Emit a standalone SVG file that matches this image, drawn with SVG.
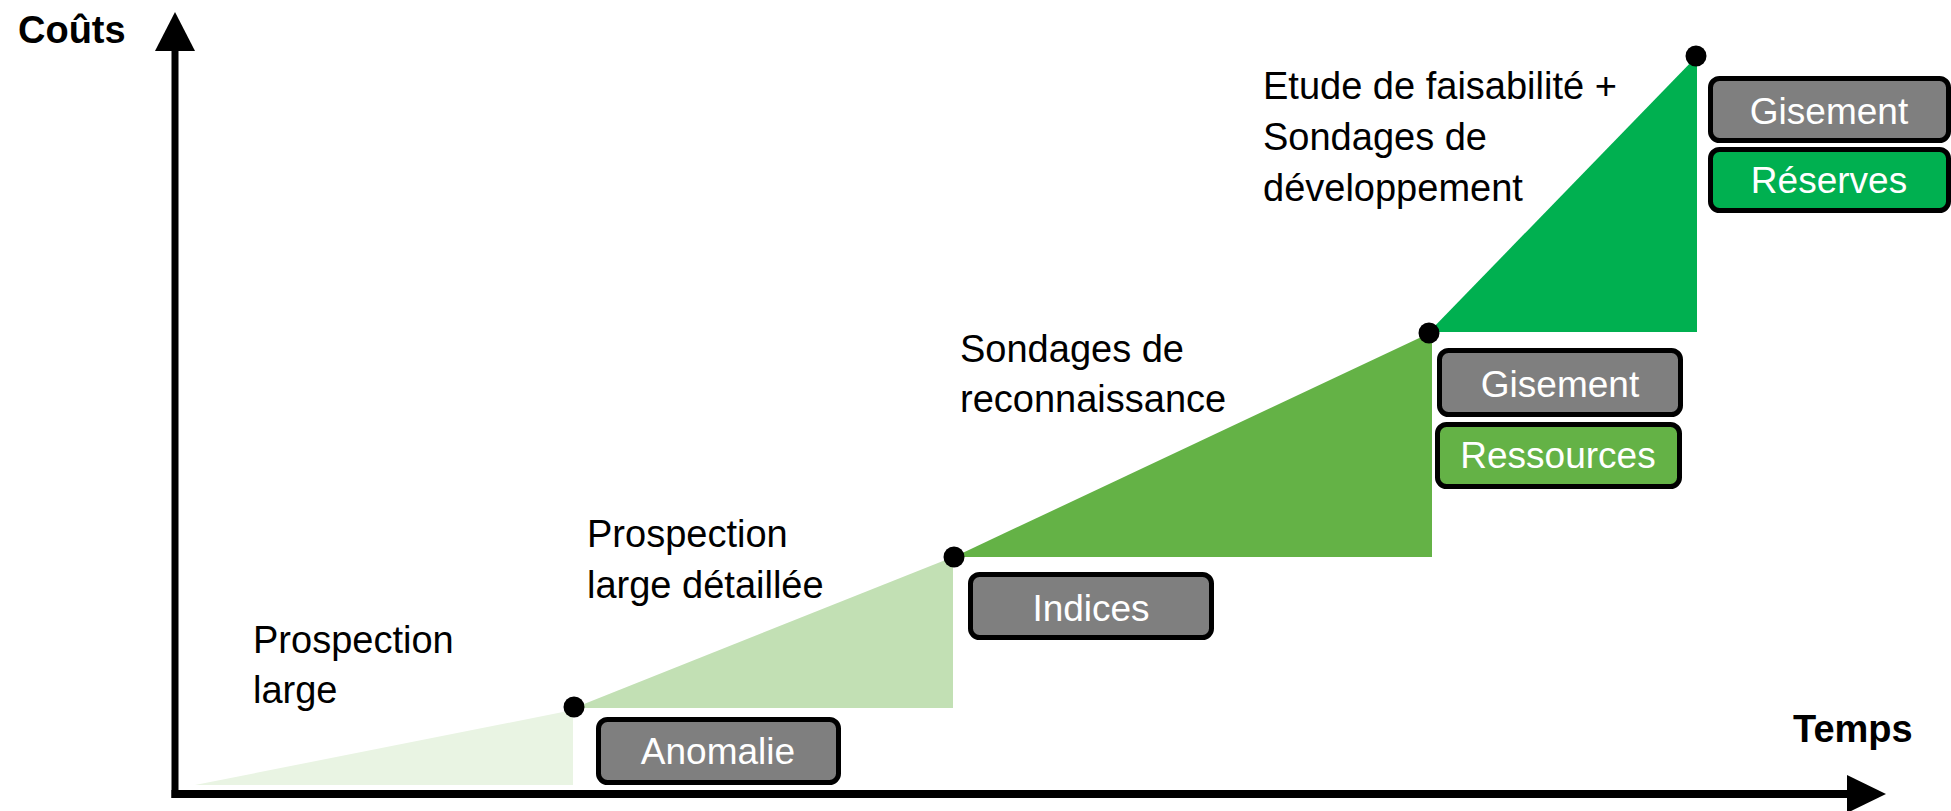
<svg xmlns="http://www.w3.org/2000/svg" width="1951" height="811" viewBox="0 0 1951 811">
<style>
  text { font-family: "Liberation Sans", Arial, sans-serif; }
  .lbl { font-size: 38px; fill: #000; }
  .ax { font-size: 38px; font-weight: bold; fill: #000; }
  .box { stroke: #000; stroke-width: 5; }
  .gray { fill: #7F7F7F; }
  .mid { fill: #64B246; }
  .dark { fill: #00B050; }
  .bt { font-size: 37px; fill: #fff; text-anchor: middle; }
  .dot { fill: #000; }
</style>
<rect width="1951" height="811" fill="#fff"/>
<g id="areas">
  <polygon points="195,785 573,710 573,785" fill="#E9F4E3"/>
  <polygon points="574,708 953,557 953,708" fill="#C2E0B4"/>
  <polygon points="954,557 1432,332 1432,557" fill="#64B246"/>
  <polygon points="1429,332 1697,56 1697,332" fill="#00B050"/>
</g>
<g id="connectors">
  <line x1="175" y1="798" x2="175" y2="50" stroke="#000" stroke-width="7"/>
  <polygon points="155,51 195,51 175,12" fill="#000"/>
  <line x1="171.5" y1="794" x2="1848" y2="794" stroke="#000" stroke-width="8"/>
  <polygon points="1847,775 1847,813 1886,794" fill="#000"/>
</g>
<g id="axis-labels">
  <text class="ax" x="18" y="43">Coûts</text>
  <text class="ax" x="1793" y="742">Temps</text>
</g>
<g id="dots">
  <circle class="dot" cx="574" cy="707" r="10.5"/>
  <circle class="dot" cx="954" cy="557" r="10.5"/>
  <circle class="dot" cx="1429" cy="333" r="10.5"/>
  <circle class="dot" cx="1696" cy="56" r="10.5"/>
</g>
<g id="stage-prospection-large">
  <text class="lbl" x="253" y="653">Prospection</text>
  <text class="lbl" x="253" y="703">large</text>
</g>
<g id="stage-prospection-detaillee">
  <text class="lbl" x="587" y="547">Prospection</text>
  <text class="lbl" x="587" y="598">large détaillée</text>
</g>
<g id="stage-sondages-reconnaissance">
  <text class="lbl" x="960" y="362">Sondages de</text>
  <text class="lbl" x="960" y="412">reconnaissance</text>
</g>
<g id="stage-etude-faisabilite">
  <text class="lbl" x="1263" y="99">Etude de faisabilité +</text>
  <text class="lbl" x="1263" y="150">Sondages de</text>
  <text class="lbl" x="1263" y="201">développement</text>
</g>
<g id="box-anomalie">
  <rect class="box gray" x="598.5" y="719.5" width="240" height="63" rx="9"/>
  <text class="bt" x="718" y="764">Anomalie</text>
</g>
<g id="box-indices">
  <rect class="box gray" x="970.5" y="574.5" width="241" height="63" rx="9"/>
  <text class="bt" x="1091" y="621">Indices</text>
</g>
<g id="box-gisement-1">
  <rect class="box gray" x="1439.5" y="350.5" width="241" height="64" rx="9"/>
  <text class="bt" x="1560" y="397">Gisement</text>
</g>
<g id="box-ressources">
  <rect class="box mid" x="1437.5" y="424.5" width="242" height="62" rx="9"/>
  <text class="bt" x="1558" y="468">Ressources</text>
</g>
<g id="box-gisement-2">
  <rect class="box gray" x="1710.5" y="78.5" width="238" height="62" rx="9"/>
  <text class="bt" x="1829" y="124">Gisement</text>
</g>
<g id="box-reserves">
  <rect class="box dark" x="1710.5" y="149.5" width="238" height="61" rx="9"/>
  <text class="bt" x="1829" y="193">Réserves</text>
</g>
</svg>
